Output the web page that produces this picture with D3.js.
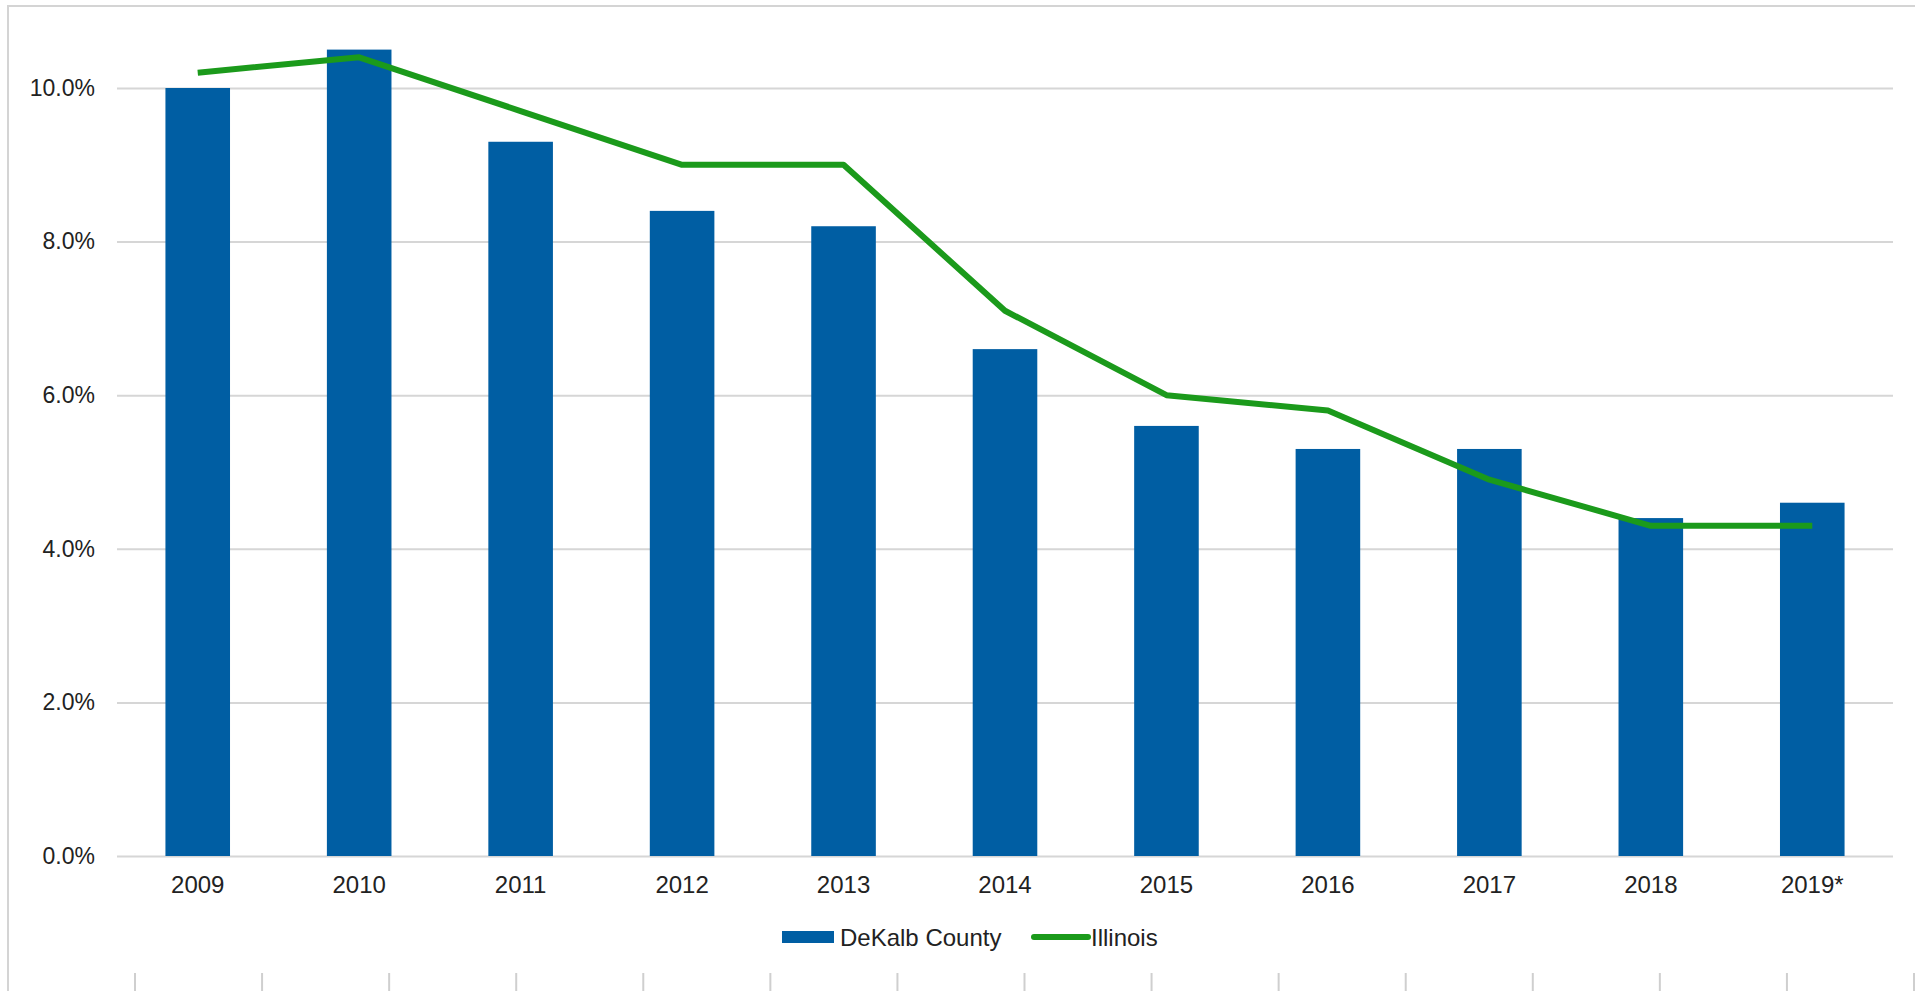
<!doctype html>
<html>
<head>
<meta charset="utf-8">
<title>DeKalb County vs Illinois</title>
<script src="https://d3js.org/d3.v7.min.js"></script>
<style>
  html, body { margin: 0; padding: 0; background: #fff; }
  svg { display: block; }
  text { font-family: "Liberation Sans", Arial, sans-serif; fill: #222; }
</style>
</head>
<body>
<svg id="chart" width="1919" height="991"></svg>
<script>
// data
var years = ["2009", "2010", "2011", "2012", "2013", "2014", "2015", "2016", "2017", "2018", "2019*"];
var dekalb = [10.0, 10.5, 9.3, 8.4, 8.2, 6.6, 5.6, 5.3, 5.3, 4.4, 4.6];
var illinois = [10.2, 10.4, 9.7, 9.0, 9.0, 7.1, 6.0, 5.8, 4.9, 4.3, 4.3];
var yTicks = [0, 2, 4, 6, 8, 10];
var legendNames = ["DeKalb County", "Illinois"];

var blue = "#005ea3", green = "#1b9a1b";

var svg = d3.select("#chart");

var x = d3.scaleBand().domain(years).range([117, 1893]).paddingInner(0.6).paddingOuter(0.3);
var y = d3.scaleLinear().domain([0, 10]).range([856, 88]);

// frame (top + left edges only, the picture is cropped)
svg.append("path")
  .attr("d", "M8,991V6H1915")
  .attr("fill", "none")
  .attr("stroke", "#d4d4d4")
  .attr("stroke-width", 2);

// gridlines + y labels
var yAxis = d3.axisLeft(y)
  .tickValues(yTicks)
  .tickSize(-(1893 - 117))
  .tickPadding(22)
  .tickFormat(function(d) { return d.toFixed(1) + "%"; });

var gy = svg.append("g").attr("transform", "translate(117,0)").call(yAxis);
gy.select(".domain").remove();
gy.selectAll(".tick line").attr("stroke", "#d6d6d6").attr("stroke-width", 2);
gy.selectAll(".tick text")
  .attr("font-size", 23)
  .attr("fill", "#222")
  .attr("font-family", "Liberation Sans, Arial, sans-serif");

// bars
svg.append("g").selectAll("rect")
  .data(years)
  .join("rect")
  .attr("x", function(d) { return x(d); })
  .attr("width", x.bandwidth())
  .attr("y", function(d, i) { return y(dekalb[i]); })
  .attr("height", function(d, i) { return y(0) - y(dekalb[i]); })
  .attr("fill", blue);

// line
var line = d3.line()
  .x(function(d, i) { return x(years[i]) + x.bandwidth() / 2; })
  .y(function(d) { return y(d); });

svg.append("path")
  .datum(illinois)
  .attr("d", line)
  .attr("fill", "none")
  .attr("stroke", green)
  .attr("stroke-width", 6)
  .attr("stroke-linejoin", "round");

// x labels
var xAxis = d3.axisBottom(x).tickSize(0).tickPadding(20);
var gx = svg.append("g").attr("transform", "translate(0,856)").call(xAxis);
gx.select(".domain").remove();
gx.selectAll(".tick text")
  .attr("font-size", 24)
  .attr("fill", "#222")
  .attr("font-family", "Liberation Sans, Arial, sans-serif");

// legend
var lg = svg.append("g").attr("transform", "translate(782,937)");
lg.append("rect").attr("x", 0).attr("y", -6).attr("width", 52).attr("height", 12).attr("fill", blue);
lg.append("text").attr("x", 58).attr("y", 8.5).attr("font-size", 24).text(legendNames[0]);
lg.append("line").attr("x1", 252).attr("x2", 306).attr("y1", 0).attr("y2", 0)
  .attr("stroke", green).attr("stroke-width", 6).attr("stroke-linecap", "round");
lg.append("text").attr("x", 309).attr("y", 8.5).attr("font-size", 24).text(legendNames[1]);

// stub ticks along the bottom edge (cropped table below)
var stub = d3.scaleLinear().domain([0, 14]).range([135, 1914]);
svg.append("g").selectAll("line")
  .data(d3.range(15))
  .join("line")
  .attr("x1", function(d) { return stub(d); })
  .attr("x2", function(d) { return stub(d); })
  .attr("y1", 973).attr("y2", 991)
  .attr("stroke", "#cfcfcf").attr("stroke-width", 2);
</script>
</body>
</html>
